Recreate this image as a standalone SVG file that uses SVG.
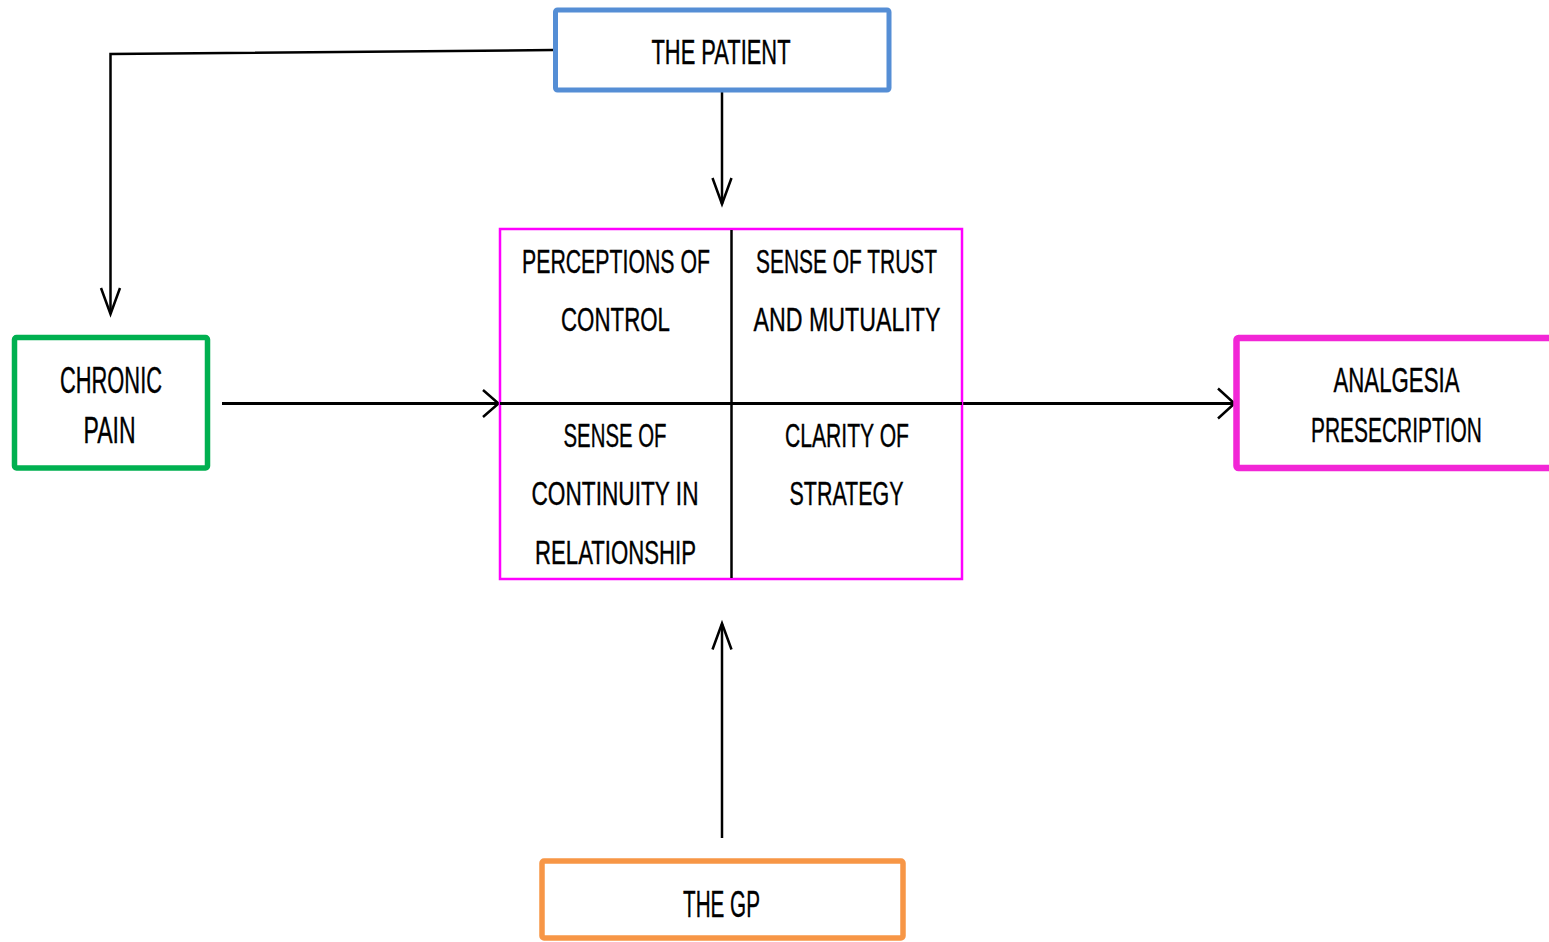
<svg xmlns="http://www.w3.org/2000/svg" width="1549" height="942" viewBox="0 0 1549 942">
  <style>
    .box { fill: #ffffff; }
    .lbl { font-family: "Liberation Sans Narrow", "Liberation Sans", Arial, sans-serif; font-size: 35px; fill: #000000; stroke: #000000; stroke-width: 0.4; text-anchor: middle; }
    .cell { font-size: 34px; }
    .big { font-size: 37px; }
    .wire { fill: none; stroke: #000000; stroke-width: 2.5; }
    .wireh { fill: none; stroke: #000000; stroke-width: 3; }
    .head { fill: none; stroke: #000000; stroke-width: 2.5; stroke-linejoin: miter; }
  </style>
  <rect width="1549" height="942" fill="#ffffff"/>

  <g id="connectors">
    <!-- patient to chronic pain -->
    <path class="wire" d="M553,50 L110.5,54 L110.5,314"/>
    <path class="head" d="M101,288 L110.5,314 L120,288"/>
    <!-- patient down to factors -->
    <path class="wire" d="M722,92 L722,204"/>
    <path class="head" d="M712.5,178 L722,204 L731.5,178"/>
    <!-- chronic pain into factors -->
    <path class="wireh" d="M222,403.5 L497,403.5"/>
    <path class="head" d="M483,390 L498.5,403.5 L483,417"/>
    <!-- factors to analgesia -->
    <path class="wireh" d="M960,403.5 L1233,403.5"/>
    <path class="head" d="M1218,388.5 L1234.5,403.5 L1218,418.5"/>
    <!-- GP up to factors -->
    <path class="wire" d="M722,838 L722,624"/>
    <path class="head" d="M712.5,649.5 L722,623.5 L731.5,649.5"/>
  </g>

  <g id="patient">
    <rect class="box" x="555.5" y="10" width="333.5" height="80" rx="2" stroke="#558ED5" stroke-width="5"/>
    <text class="lbl" x="721" y="64" textLength="139" lengthAdjust="spacingAndGlyphs">THE PATIENT</text>
  </g>

  <g id="chronic-pain">
    <rect class="box" x="14.5" y="337.5" width="193" height="130.5" rx="2" stroke="#00B050" stroke-width="5.5"/>
    <text class="lbl big" x="111" y="392.5" textLength="102" lengthAdjust="spacingAndGlyphs">CHRONIC</text>
    <text class="lbl big" x="109.5" y="443" textLength="52" lengthAdjust="spacingAndGlyphs">PAIN</text>
  </g>

  <g id="factors">
    <rect x="500" y="229" width="462" height="350" fill="none" stroke="#FF00FF" stroke-width="2.5"/>
    <line x1="731.5" y1="230" x2="731.5" y2="578" stroke="#000000" stroke-width="2.5"/>
    <line x1="500" y1="403.5" x2="962" y2="403.5" stroke="#000000" stroke-width="3"/>
    <text class="lbl cell" x="616" y="272.5" textLength="188" lengthAdjust="spacingAndGlyphs">PERCEPTIONS OF</text>
    <text class="lbl cell" x="615.5" y="330.5" textLength="109" lengthAdjust="spacingAndGlyphs">CONTROL</text>
    <text class="lbl cell" x="846.5" y="272.5" textLength="181" lengthAdjust="spacingAndGlyphs">SENSE OF TRUST</text>
    <text class="lbl cell" x="847" y="330.5" textLength="187" lengthAdjust="spacingAndGlyphs">AND MUTUALITY</text>
    <text class="lbl cell" x="615" y="447" textLength="103" lengthAdjust="spacingAndGlyphs">SENSE OF</text>
    <text class="lbl cell" x="615" y="505" textLength="167" lengthAdjust="spacingAndGlyphs">CONTINUITY IN</text>
    <text class="lbl cell" x="615.5" y="563.5" textLength="161" lengthAdjust="spacingAndGlyphs">RELATIONSHIP</text>
    <text class="lbl cell" x="847" y="447" textLength="124" lengthAdjust="spacingAndGlyphs">CLARITY OF</text>
    <text class="lbl cell" x="846.5" y="505" textLength="114" lengthAdjust="spacingAndGlyphs">STRATEGY</text>
  </g>

  <g id="analgesia">
    <rect class="box" x="1236.5" y="338" width="330" height="130" rx="2" stroke="#F226D6" stroke-width="6.5"/>
    <text class="lbl" x="1396.5" y="392" textLength="126" lengthAdjust="spacingAndGlyphs">ANALGESIA</text>
    <text class="lbl" x="1396.5" y="442" textLength="171" lengthAdjust="spacingAndGlyphs">PRESECRIPTION</text>
  </g>

  <g id="gp">
    <rect class="box" x="542" y="861" width="361" height="77" rx="2" stroke="#F79646" stroke-width="5.5"/>
    <text class="lbl big" x="721.5" y="917" textLength="77" lengthAdjust="spacingAndGlyphs">THE GP</text>
  </g>
</svg>
